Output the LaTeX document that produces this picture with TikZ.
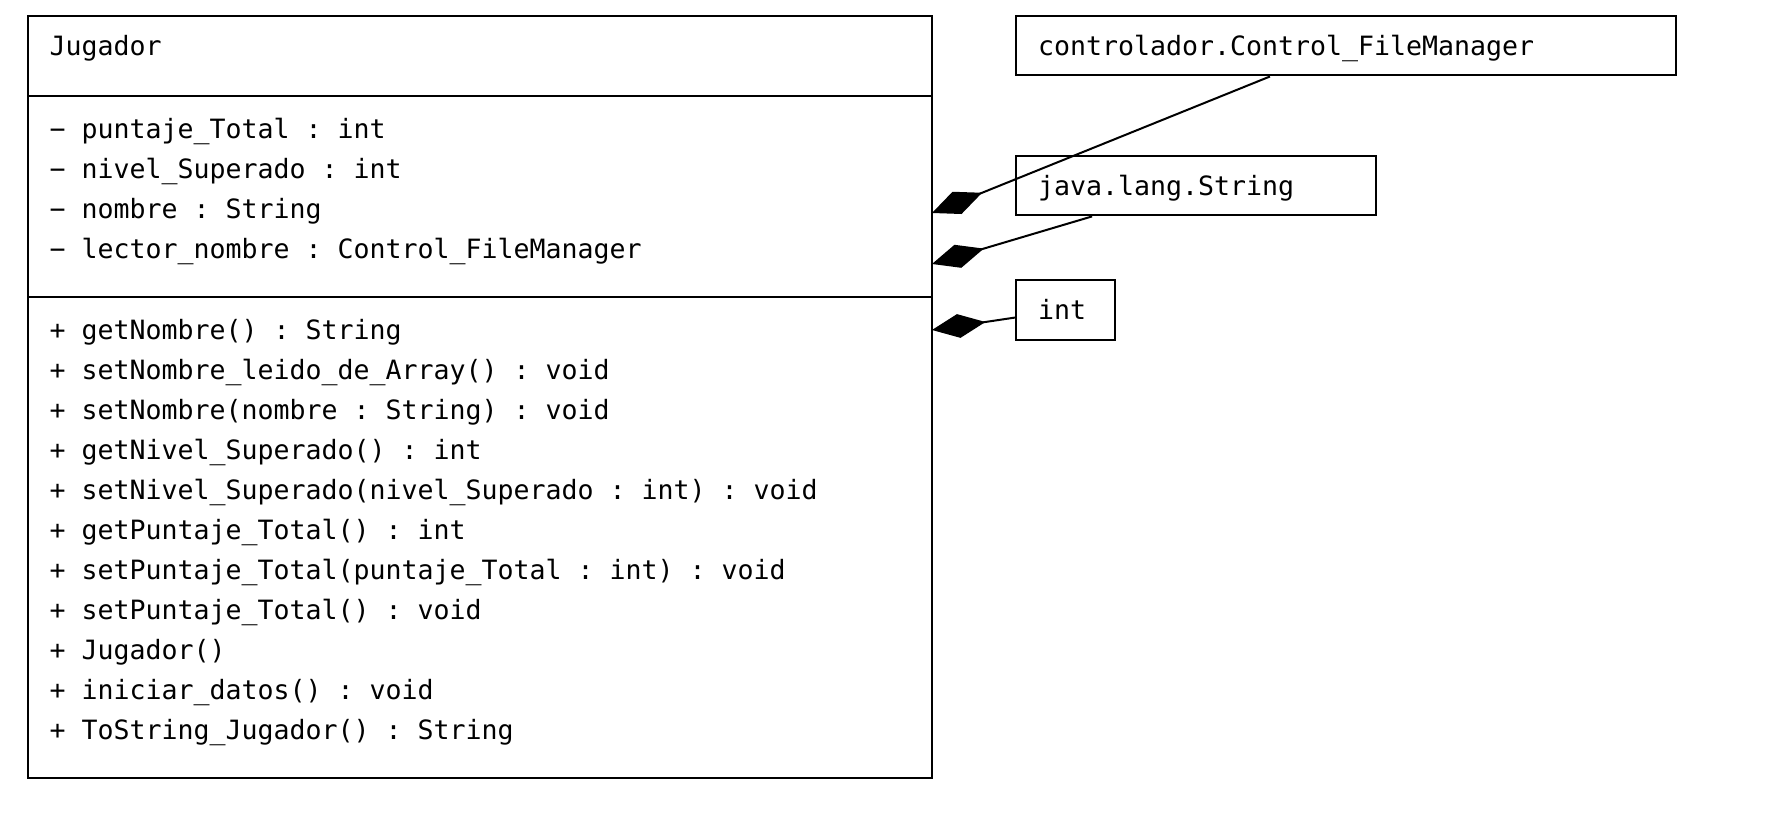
\documentclass[tikz,border=0pt]{standalone}
\usepackage{fontspec}
\setmonofont{DejaVu Sans Mono}
\usetikzlibrary{arrows.meta,fit}

\begin{document}
\begin{tikzpicture}
    [x = 0.5pt, y = -0.5pt, line width = 1pt,
     box/.style = {draw, rectangle, inner sep = 0pt},
     member/.style = {anchor = base west, inner sep = 0pt,
                      font = \ttfamily\fontsize{13.29pt}{16pt}\selectfont},
     aggregation/.style = {{Diamond[length = 27pt, width = 12pt]}-}]
    \useasboundingbox (0,0) rectangle (1768,838);
    % clase Jugador
    \node[box, fit = {(28,16) (932,778)}] (jugador) {};
    \draw (jugador.west |- 0,96) -- (jugador.east |- 0,96);
    \draw (jugador.west |- 0,297.5) -- (jugador.east |- 0,297.5);
    \node[member] (titulo) at (48.5,56) {Jugador};
    \foreach \txt [count=\i] in {−~puntaje\_Total : int, −~nivel\_Superado : int,
        −~nombre : String, −~lector\_nombre : Control\_FileManager}
        \node[member] (atributo\i) at (48.5, 98.5 + 39.9*\i) {\txt};
    \foreach \txt [count=\i] in {+ getNombre() : String,
        + setNombre\_leido\_de\_Array() : void,
        + setNombre(nombre : String) : void,
        + getNivel\_Superado() : int,
        + setNivel\_Superado(nivel\_Superado : int) : void,
        + getPuntaje\_Total() : int,
        + setPuntaje\_Total(puntaje\_Total : int) : void,
        + setPuntaje\_Total() : void,
        + Jugador(),
        + iniciar\_datos() : void,
        + ToString\_Jugador() : String}
        \node[member] (metodo\i) at (48.5, 300.05 + 39.95*\i) {\txt};
    % clases usadas
    \node[box, fit = {(1016,16) (1676,75.5)}] (control) {};
    \node[member] (controltxt) at (1037,56) {controlador.Control\_FileManager};
    \node[box, fit = {(1016,155.6) (1376,215.4)}] (string) {};
    \node[member] (stringtxt) at (1037,196) {java.lang.String};
    \node[box, fit = {(1016,280) (1115,340)}] (int) {};
    \node[member] (inttxt) at (1037,320) {int};
    % agregaciones
    \coordinate (agg1) at (932,213);
    \coordinate (agg2) at (932,264);
    \coordinate (agg3) at (932,330);
    \draw[aggregation] (agg1) -- (control);
    \draw[aggregation] (agg2) -- (string);
    \draw[aggregation] (agg3) -- (int);
\end{tikzpicture}
\end{document}
